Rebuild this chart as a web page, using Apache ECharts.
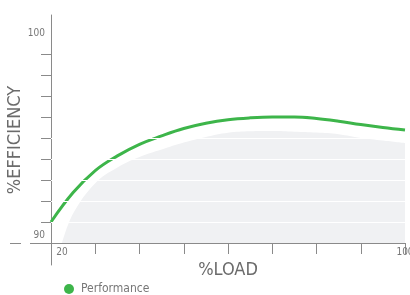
<!DOCTYPE html>
<html>
<head>
<meta charset="utf-8">
<script src="https://cdn.jsdelivr.net/npm/echarts@6/dist/echarts.min.js"></script>
<style>
  html, body { margin: 0; padding: 0; background: #fff; }
  #chart { width: 410px; height: 295px; }
</style>
</head>
<body>
<div id="chart"></div>
<script>
// load (%) vs efficiency (%)
const loadX = [20, 25, 30, 35, 40, 45, 50, 55, 60, 65, 70, 75, 80, 85, 90, 95, 100]
const perf = [91.0, 92.4, 93.45, 94.15, 94.7, 95.1, 95.45, 95.7, 95.87, 95.96, 96.0, 96.0, 95.93, 95.8, 95.64, 95.5, 95.38]
// grey background shape
const shadeX = [22.5, 25, 30, 35, 40, 45, 50, 55, 60, 65, 70, 75, 80, 85, 90, 95, 100]
const shade = [90, 91.4, 92.85, 93.6, 94.1, 94.45, 94.78, 95.05, 95.25, 95.32, 95.33, 95.3, 95.26, 95.18, 95.0, 94.88, 94.76]
const yTicks = [91, 92, 93, 94, 95, 96, 97, 98, 99]
const yLabels = [90, 100]
const gridVals = [91, 92, 93, 94, 95]

const font = "'Liberation Sans Narrow', 'DejaVu Sans Condensed', sans-serif"
const axisGrey = '#8a8a8a'
const green = '#3db54a'

const myChart = echarts.init(document.getElementById('chart'))
const hiddenY = (offset, len) => ({
  type: 'value',
  min: 88.952,
  max: 100.857,
  position: 'left',
  offset: offset,
  axisLine: { show: false },
  axisLabel: { show: false },
  splitLine: { show: false },
  axisTick: { show: true, customValues: [90], length: len, lineStyle: { color: axisGrey } }
})
const options = {
  animation: false,
  grid: { left: 51, right: 5, top: 15, bottom: 30, containLabel: false, outerBoundsMode: 'none' },
  legend: {
    left: 59,
    top: 278,
    itemWidth: 14,
    itemHeight: 10,
    icon: 'circle',
    textStyle: { color: '#777', fontSize: 12, fontFamily: font },
    data: ['Performance']
  },
  xAxis: {
    type: 'value',
    min: 20,
    max: 100,
    interval: 10,
    offset: -22,
    name: '%LOAD',
    nameLocation: 'middle',
    nameGap: 18,
    nameMoveOverlap: false,
    nameTextStyle: { color: '#6b6b6b', fontSize: 18, fontFamily: font },
    axisLine: { lineStyle: { color: axisGrey } },
    axisTick: { length: 11, lineStyle: { color: axisGrey } },
    splitLine: { show: false },
    axisLabel: {
      margin: 4,
      color: '#777',
      fontSize: 10,
      fontFamily: font,
      formatter: v => v === 20 ? '{a|20}' : (v === 100 ? '100' : ''),
      rich: { a: { padding: [0, 0, 0, 22], fontSize: 10, color: '#777', fontFamily: font } }
    }
  },
  yAxis: [
    {
      type: 'value',
      min: 88.952,
      max: 100.857,
      name: '%EFFICIENCY',
      nameLocation: 'middle',
      nameGap: 27,
      nameMoveOverlap: false,
      nameTextStyle: { color: '#6b6b6b', fontSize: 18, fontFamily: font },
      axisLine: { show: true, lineStyle: { color: axisGrey } },
      axisTick: { show: true, customValues: yTicks, length: 10, lineStyle: { color: axisGrey } },
      splitLine: { show: false },
      axisLabel: {
        customValues: yLabels,
        margin: 6,
        color: '#777',
        fontSize: 10,
        fontFamily: font,
        formatter: v => v === 90 ? '{a|90}' : '100',
        rich: { a: { padding: [0, 0, 16, 0], fontSize: 10, color: '#777', fontFamily: font } }
      }
    },
    hiddenY(0, 21),
    hiddenY(30, 11)
  ],
  series: [
    {
      name: 'shade',
      type: 'line',
      z: 1,
      smooth: 0.4,
      symbol: 'none',
      silent: true,
      lineStyle: { width: 0 },
      areaStyle: { color: '#f0f1f3', opacity: 1, origin: 90 },
      data: shadeX.map((x, i) => [x, shade[i]]),
      markLine: {
        silent: true,
        symbol: 'none',
        label: { show: false },
        lineStyle: { color: '#fff', width: 1, type: 'solid' },
        data: gridVals.map(v => ({ yAxis: v }))
      }
    },
    {
      name: 'Performance',
      type: 'line',
      z: 3,
      smooth: 0.4,
      symbol: 'none',
      itemStyle: { color: green },
      lineStyle: { color: green, width: 3 },
      data: loadX.map((x, i) => [x, perf[i]])
    }
  ]
}
myChart.setOption(options)
</script>
</body>
</html>
